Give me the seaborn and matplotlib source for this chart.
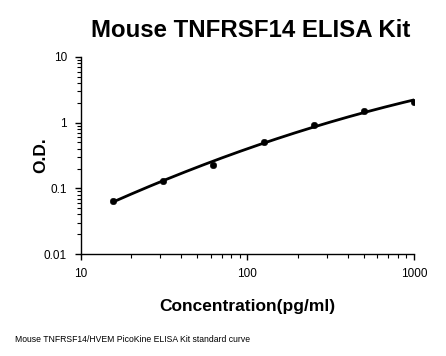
import numpy as np
import pandas as pd
import matplotlib
matplotlib.use("Agg")
import matplotlib.pyplot as plt
import seaborn as sns

# standard curve points
conc = [15.6, 31.25, 62.5, 125, 250, 500, 1000]
od = [0.065, 0.13, 0.23, 0.50, 0.91, 1.52, 2.08]

title = "Mouse TNFRSF14 ELISA Kit"
xlab = "Concentration(pg/ml)"
ylab = "O.D."
caption = "Mouse TNFRSF14/HVEM PicoKine ELISA Kit standard curve"

sns.set_style("ticks")
plt.rcParams['font.family'] = ['Liberation Sans', 'DejaVu Sans']
for k in ['text.color', 'axes.labelcolor', 'xtick.color', 'ytick.color', 'axes.edgecolor']:
    plt.rcParams[k] = 'black'

df = pd.DataFrame({'conc': conc, 'od': od})

# smooth fit in log-log space
coef = np.polyfit(np.log10(df['conc']), np.log10(df['od']), 2)
xf = np.logspace(np.log10(conc[0]), np.log10(conc[-1]), 200)
fit = pd.DataFrame({'conc': xf, 'od': 10 ** np.polyval(coef, np.log10(xf))})

fig = plt.figure(figsize=(4.46, 3.56), dpi=100)
ax = fig.add_axes([0.1816, 0.2865, 0.7464, 0.5534])

sns.lineplot(data=fit, x='conc', y='od', color='black', linewidth=2, ax=ax)
sns.scatterplot(data=df, x='conc', y='od', color='black', s=22, edgecolor='black', zorder=3, ax=ax)

ax.set_xscale('log')
ax.set_yscale('log')
ax.set_xlim(10, 1000)
ax.set_ylim(0.01, 10)
ax.set_xticks([10, 100, 1000])
ax.set_xticklabels(['10', '100', '1000'])
ax.set_yticks([0.01, 0.1, 1, 10])
ax.set_yticklabels(['0.01', '0.1', '1', '10'])
ax.tick_params(axis='both', which='major', labelsize=8.5, length=4, width=1, pad=6)
ax.tick_params(axis='both', which='minor', length=3, width=0.8)
for s in ['left', 'bottom']:
    ax.spines[s].set_linewidth(1)
sns.despine(ax=ax)

ax.set_xlabel(xlab, fontsize=12.5, fontweight='bold', labelpad=14)
ax.set_ylabel(ylab, fontsize=12.5, fontweight='bold', labelpad=-3)
fig.text(0.563, 0.915, title, ha='center', va='center', fontsize=17.3, fontweight='bold')
fig.text(0.034, 0.045, caption, ha='left', va='center', fontsize=6.2)

fig.savefig('out.png', dpi=100)
